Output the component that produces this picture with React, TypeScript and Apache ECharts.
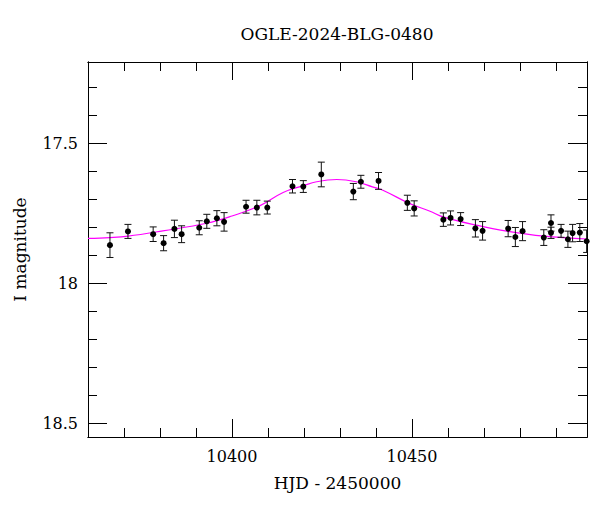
import React, { useEffect, useRef } from "react";
import * as echarts from "echarts";

// Observations (HJD - 2450000, I magnitude, error)
const obsTime = [10366.1, 10371.1, 10378.1, 10381.0, 10384.0, 10386.0, 10390.9, 10393.0, 10395.8, 10397.8, 10403.9, 10406.9, 10409.8, 10416.8, 10419.8, 10424.8, 10433.7, 10435.8, 10440.7, 10448.7, 10450.6, 10458.7, 10460.7, 10463.5, 10467.6, 10469.6, 10476.7, 10478.7, 10480.7, 10486.6, 10488.6, 10488.6, 10491.4, 10493.3, 10494.6, 10496.6, 10498.5];
const obsMag = [17.864, 17.815, 17.825, 17.857, 17.806, 17.825, 17.802, 17.779, 17.768, 17.781, 17.727, 17.730, 17.730, 17.654, 17.655, 17.612, 17.673, 17.638, 17.635, 17.713, 17.733, 17.773, 17.767, 17.771, 17.804, 17.813, 17.805, 17.835, 17.814, 17.837, 17.785, 17.820, 17.813, 17.843, 17.821, 17.819, 17.850];
const obsErr = [0.044, 0.025, 0.026, 0.027, 0.031, 0.030, 0.025, 0.025, 0.027, 0.033, 0.023, 0.026, 0.023, 0.024, 0.021, 0.044, 0.029, 0.023, 0.030, 0.027, 0.027, 0.024, 0.025, 0.023, 0.031, 0.033, 0.029, 0.034, 0.034, 0.028, 0.029, 0.020, 0.023, 0.029, 0.031, 0.032, 0.040];

// Model curve
const modelTime = [10360, 10366, 10371.1, 10380.8, 10393.0, 10400.0, 10407.8, 10414.2, 10419.8, 10423.5, 10429.1, 10434.5, 10439.0, 10441.9, 10449.4, 10455.0, 10458.6, 10467.6, 10476.7, 10486.6, 10498.6];
const modelMag = [17.840, 17.837, 17.832, 17.813, 17.786, 17.760, 17.723, 17.676, 17.652, 17.638, 17.630, 17.638, 17.656, 17.668, 17.716, 17.743, 17.763, 17.792, 17.815, 17.832, 17.842];

// Axis ticks
const xMajorTicks = [10400, 10450];
const xMinorTicks = [10370, 10380, 10390, 10410, 10420, 10430, 10440, 10460, 10470, 10480, 10490];
const yMajorTicks = [17.5, 18, 18.5];
const yMinorTicks = [17.3, 17.4, 17.6, 17.7, 17.8, 17.9, 18.1, 18.2, 18.3, 18.4];

const X_MIN = 10360;
const X_MAX = 10498.6;
const Y_MIN = 17.211;
const Y_MAX = 18.548;

const FONT = "DejaVu Serif";

export default function App() {
  const ref = useRef<HTMLDivElement>(null);

  useEffect(() => {
    if (!ref.current) return;
    const chart = echarts.init(ref.current, undefined, { renderer: "svg" });

    const gridRect = { left: 88, right: 13, top: 62, bottom: 75 };
    const lineStyle = { color: "#000", width: 1 };
    const fmt = (v: number) => String(v);

    const xAxisBase = (gridIndex: number, position: string, ticks: number[], len: number, labels: boolean) => ({
      type: "value",
      gridIndex,
      position,
      min: X_MIN,
      max: X_MAX,
      axisLine: { show: true, lineStyle },
      axisTick: { show: true, inside: true, length: len, customValues: ticks, lineStyle },
      axisLabel: labels
        ? { show: true, customValues: ticks, formatter: fmt, color: "#000", fontSize: 16, fontFamily: FONT, margin: 11 }
        : { show: false },
      splitLine: { show: false },
    });

    const yAxisBase = (gridIndex: number, position: string, ticks: number[], len: number, labels: boolean) => ({
      type: "value",
      gridIndex,
      position,
      inverse: true,
      min: Y_MIN,
      max: Y_MAX,
      axisLine: { show: true, lineStyle },
      axisTick: { show: true, inside: true, length: len, customValues: ticks, lineStyle },
      axisLabel: labels
        ? { show: true, customValues: ticks, formatter: fmt, color: "#000", fontSize: 16, fontFamily: FONT, margin: 10 }
        : { show: false },
      splitLine: { show: false },
    });

    const errData = obsTime.map((t, i) => [t, obsMag[i], obsErr[i]]);
    const ptData = obsTime.map((t, i) => [t, obsMag[i]]);
    const modelData = modelTime.map((t, i) => [t, modelMag[i]]);

    const option: any = {
      animation: false,
      backgroundColor: "#fff",
      graphic: [
        {
          type: "text",
          x: 337,
          y: 34,
          style: {
            text: "OGLE-2024-BLG-0480",
            fill: "#000",
            fontSize: 17,
            fontFamily: FONT,
            align: "center",
            verticalAlign: "middle",
          },
        },
      ],
      grid: [
        { ...gridRect },
        { ...gridRect },
      ],
      xAxis: [
        {
          ...xAxisBase(0, "bottom", xMajorTicks, 18, true),
          name: "HJD - 2450000",
          nameLocation: "middle",
          nameGap: 37,
          nameTextStyle: { color: "#000", fontSize: 17, fontFamily: FONT },
        },
        xAxisBase(0, "top", xMajorTicks, 18, false),
        xAxisBase(1, "bottom", xMinorTicks, 9, false),
        xAxisBase(1, "top", xMinorTicks, 9, false),
      ],
      yAxis: [
        {
          ...yAxisBase(0, "left", yMajorTicks, 19, true),
          name: "I magnitude",
          nameLocation: "middle",
          nameGap: 60,
          nameRotate: 90,
          nameTextStyle: { color: "#000", fontSize: 17, fontFamily: FONT },
        },
        yAxisBase(0, "right", yMajorTicks, 19, false),
        yAxisBase(1, "left", yMinorTicks, 9, false),
        yAxisBase(1, "right", yMinorTicks, 9, false),
      ],
      series: [
        {
          type: "line",
          xAxisIndex: 0,
          yAxisIndex: 0,
          data: modelData,
          smooth: 0.4,
          showSymbol: false,
          symbol: "none",
          lineStyle: { color: "#ff00ff", width: 1.2 },
          z: 2,
        },
        {
          type: "custom",
          xAxisIndex: 0,
          yAxisIndex: 0,
          data: errData,
          z: 3,
          renderItem: (params: any, api: any) => {
            const x = api.value(0);
            const y = api.value(1);
            const e = api.value(2);
            const top = api.coord([x, y - e]);
            const bot = api.coord([x, y + e]);
            const cs = params.coordSys;
            const xmin = cs.x;
            const xmax = cs.x + cs.width;
            const clamp = (v: number) => Math.max(xmin, Math.min(xmax, v));
            const hw = 3.5;
            const style = { stroke: "#111", lineWidth: 1 };
            return {
              type: "group",
              children: [
                { type: "line", shape: { x1: top[0], y1: top[1], x2: bot[0], y2: bot[1] }, style },
                { type: "line", shape: { x1: clamp(top[0] - hw), y1: top[1], x2: clamp(top[0] + hw), y2: top[1] }, style },
                { type: "line", shape: { x1: clamp(bot[0] - hw), y1: bot[1], x2: clamp(bot[0] + hw), y2: bot[1] }, style },
              ],
            };
          },
        },
        {
          type: "scatter",
          xAxisIndex: 0,
          yAxisIndex: 0,
          data: ptData,
          symbol: "circle",
          symbolSize: 6,
          itemStyle: { color: "#000", opacity: 1 },
          z: 4,
        },
      ],
    };

    chart.setOption(option);
    return () => chart.dispose();
  }, []);

  return <div ref={ref} style={{ width: 600, height: 512, margin: -8 }} />;
}
